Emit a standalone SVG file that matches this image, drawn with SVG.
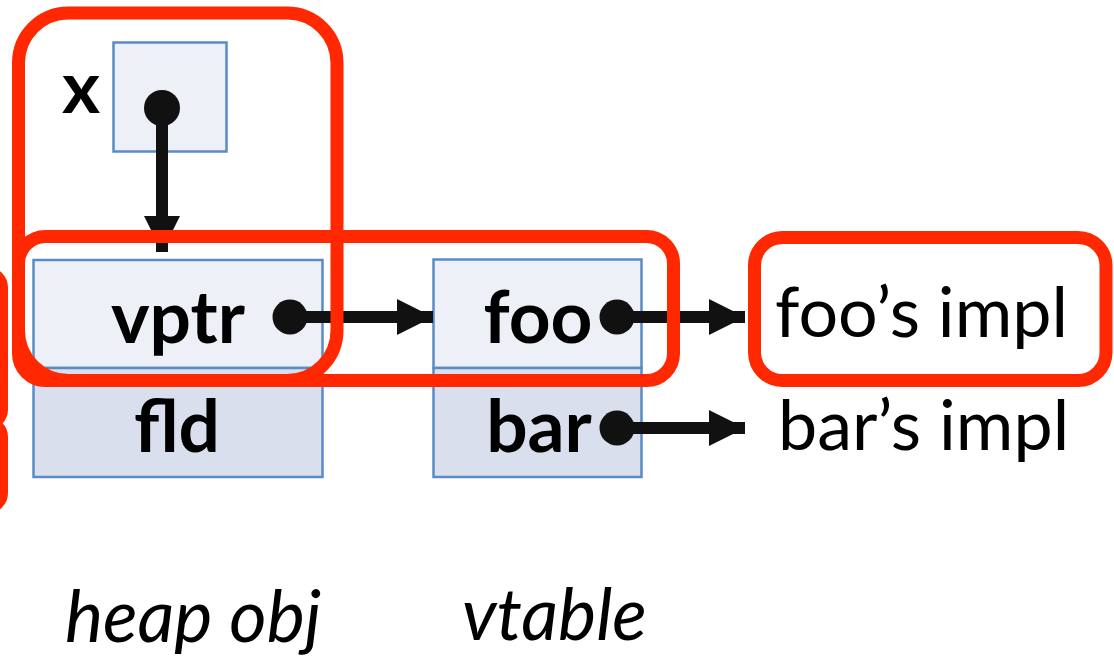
<svg xmlns="http://www.w3.org/2000/svg" width="1114" height="656" viewBox="0 0 1114 656">
<defs>
<style>
.cell{stroke:#5B8BC6;stroke-width:2.5}
.top{fill:#EDF0F6}
.bot{fill:#D9DFEC}
.b{font-family:Lato,"Liberation Sans",sans-serif;font-weight:bold;font-size:73px;fill:#000}
.r{font-family:Lato,"Liberation Sans",sans-serif;font-size:70px;fill:#000}
.i{font-family:Lato,"Liberation Sans",sans-serif;font-style:italic;font-size:72px;fill:#000}
.hl{fill:none;stroke:#FF2800;stroke-width:13}
.wire{stroke:#111;stroke-width:12;fill:none}
.dot{fill:#111}
</style>
<marker id="ah" markerUnits="userSpaceOnUse" viewBox="0 0 36 36" refX="36" refY="18" markerWidth="36" markerHeight="36" orient="auto">
<path d="M0,0 L36,18 L0,36 Z" fill="#111"/>
</marker>
</defs>
<rect width="1114" height="656" fill="#fff"/>
<g id="var-x">
<rect class="cell top" x="113.5" y="42.5" width="113" height="109"/>
<text class="b" x="62" y="113">x</text>
</g>
<g id="heap-obj">
<rect class="cell top" x="33.5" y="260" width="289" height="108"/>
<rect class="cell bot" x="33.5" y="368" width="289" height="109"/>
<text class="b" x="178" y="343" text-anchor="middle">vptr</text>
<text class="b" x="177" y="452" text-anchor="middle">fld</text>
<text class="i" x="65" y="642">heap obj</text>
</g>
<g id="vtable">
<rect class="cell top" x="433.5" y="259.5" width="208" height="108.5"/>
<rect class="cell bot" x="433.5" y="368" width="208" height="109"/>
<text class="b" x="538" y="343" text-anchor="middle">foo</text>
<text class="b" x="539" y="452" text-anchor="middle">bar</text>
<text class="i" x="462" y="640">vtable</text>
</g>
<g id="impls">
<text class="r" x="775" y="337">foo’s impl</text>
<text class="r" x="778" y="450">bar’s impl</text>
</g>
<g id="connectors">
<circle class="dot" cx="162" cy="108" r="18"/>
<line class="wire" x1="162" y1="108" x2="162" y2="252" marker-end="url(#ah)"/>
<circle class="dot" cx="290" cy="317" r="17.5"/>
<line class="wire" x1="290" y1="317" x2="433" y2="317" marker-end="url(#ah)"/>
<circle class="dot" cx="617" cy="317" r="17.5"/>
<line class="wire" x1="617" y1="317" x2="745" y2="317" marker-end="url(#ah)"/>
<circle class="dot" cx="617" cy="428" r="17.5"/>
<line class="wire" x1="617" y1="428" x2="745" y2="428" marker-end="url(#ah)"/>
</g>
<g id="highlights">
<rect class="hl" x="18.5" y="13" width="318.5" height="367.5" rx="50"/>
<rect class="hl" x="18.5" y="236.5" width="655" height="144" rx="27"/>
<rect class="hl" x="754.5" y="237.5" width="351.5" height="143" rx="28"/>
<rect class="hl" x="-100" y="273.5" width="101.5" height="150" rx="14"/>
<rect class="hl" x="-100" y="423" width="101.5" height="84" rx="14"/>
</g>
</svg>
